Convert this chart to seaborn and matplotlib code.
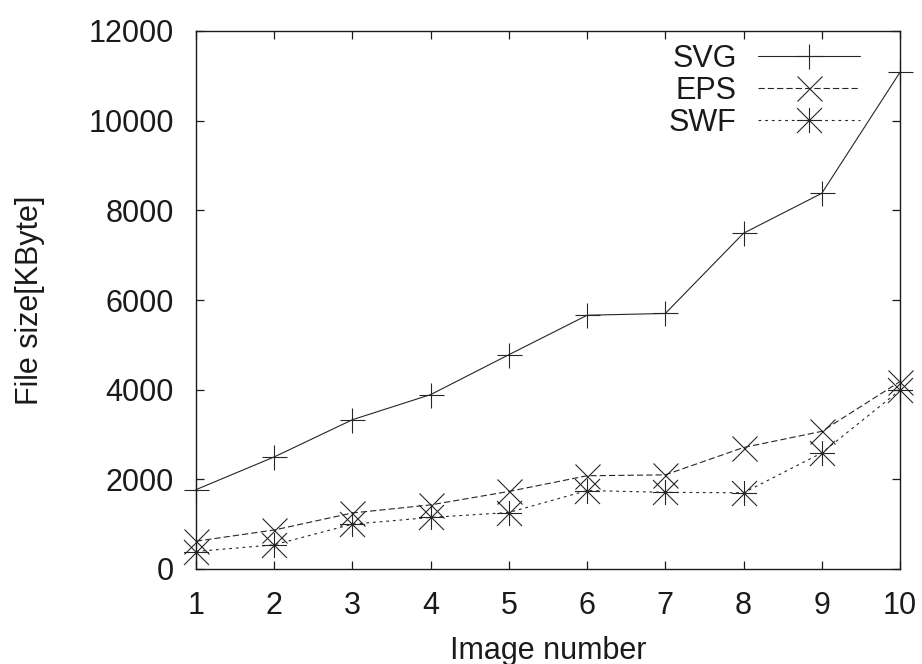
import matplotlib
matplotlib.use("Agg")
import matplotlib.pyplot as plt
from matplotlib.path import Path
import seaborn as sns

# File sizes of each test image in three vector formats (KByte)
image_numbers = [1, 2, 3, 4, 5, 6, 7, 8, 9, 10]
svg_sizes = [1770, 2500, 3330, 3890, 4780, 5660, 5700, 7490, 8380, 11080]
eps_sizes = [620, 870, 1250, 1430, 1730, 2080, 2100, 2710, 3070, 4180]
swf_sizes = [390, 540, 1000, 1150, 1260, 1750, 1710, 1700, 2590, 3990]
series_labels = ["SVG", "EPS", "SWF"]
x_ticks = [1, 2, 3, 4, 5, 6, 7, 8, 9, 10]
y_ticks = [0, 2000, 4000, 6000, 8000, 10000, 12000]

sns.set_style("ticks")
plt.rcParams.update({
    "font.family": ["Liberation Sans", "DejaVu Sans"],
    "font.size": 22,
    "xtick.direction": "in",
    "ytick.direction": "in",
    "xtick.top": True,
    "ytick.right": True,
    "xtick.major.size": 6,
    "ytick.major.size": 6,
    "xtick.major.width": 0.9,
    "ytick.major.width": 0.9,
    "xtick.major.pad": 16,
    "ytick.major.pad": 16,
    "xtick.color": "#1a1a1a",
    "ytick.color": "#1a1a1a",
    "axes.edgecolor": "#1a1a1a",
    "axes.linewidth": 1.0,
    "lines.scale_dashes": False,
})

# gnuplot-style "star": a plus and a cross overlaid
star = Path(
    [(-1, 0), (1, 0), (0, -1), (0, 1), (-1, -1), (1, 1), (-1, 1), (1, -1)],
    [Path.MOVETO, Path.LINETO] * 4,
)

fig = plt.figure(figsize=(9.22, 6.64), dpi=100)
ax = fig.add_axes([196 / 922, 1 - 569 / 664, 704 / 922, 538 / 664])

ink = "#262626"
common = dict(ax=ax, color=ink, linewidth=0.8, markersize=18,
              markeredgewidth=0.8, markeredgecolor=ink, clip_on=False)

sns.lineplot(x=image_numbers, y=svg_sizes, marker="+", linestyle="-",
             label=series_labels[0], **common)
sns.lineplot(x=image_numbers, y=eps_sizes, marker="x",
             linestyle=(0, (4.5, 2.2)), label=series_labels[1], **common)
sns.lineplot(x=image_numbers, y=swf_sizes, marker=star, markerfacecolor="none",
             linestyle=(0, (2.0, 2.8)), label=series_labels[2], **common)

ax.set_xlim(1, 10)
ax.set_ylim(0, 12000)
ax.set_xticks(x_ticks)
ax.set_yticks(y_ticks)
ax.tick_params(labelsize=22)
for side in ("top", "right"):
    ax.spines[side].set_visible(True)

ax.set_xlabel("Image number", fontsize=22, color="#1a1a1a")
ax.set_ylabel("File size[KByte]", fontsize=22, color="#1a1a1a")
ax.xaxis.set_label_coords(0.5, -0.124)
ax.yaxis.set_label_coords(-0.215, 0.5)

leg = ax.legend(loc="upper right", bbox_to_anchor=(0.943, 0.976),
                frameon=False, markerfirst=False, fontsize=22,
                handlelength=3.33, handletextpad=0.7, labelspacing=0.06,
                borderpad=0, borderaxespad=0)
for t in leg.get_texts():
    t.set_color("#1a1a1a")

fig.savefig("out.png", dpi=100)
